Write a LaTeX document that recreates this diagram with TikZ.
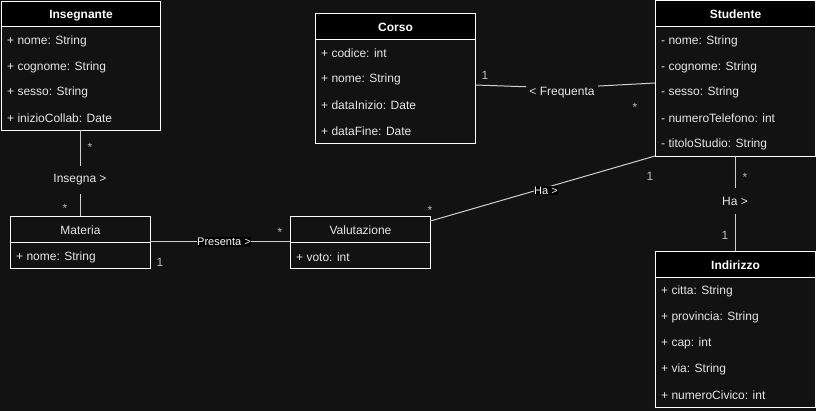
\documentclass[tikz,border=0pt]{standalone}
\usepackage{fontspec}
\setmainfont{Liberation Sans}
\definecolor{bg}{HTML}{121212}
\definecolor{hdrfill}{HTML}{000000}
\definecolor{txt}{HTML}{E6E6E6}
\definecolor{conn}{HTML}{D0D0D0}
\definecolor{mult}{HTML}{BBBBBB}
\begin{document}
\begin{tikzpicture}[x=1pt,y=-1pt,
  box/.style={draw=white,line width=1pt,fill=bg,anchor=north west,inner sep=0pt},
  hdr/.style={draw=white,line width=1pt,fill=hdrfill,anchor=north west,inner sep=0pt,text=white,text height=12pt,text depth=2.5pt,font=\fontsize{12}{14}\selectfont\bfseries},
  hdrplain/.style={draw=white,line width=1pt,fill=bg,anchor=north west,inner sep=0pt,text=txt,text height=12pt,text depth=2.5pt,font=\fontsize{12}{14}\selectfont},
  attr/.style={anchor=west,inner sep=0pt,yshift=-1pt,text=txt,font=\fontsize{12}{14}\selectfont},
  conline/.style={draw=conn,line width=1pt},
  lbl/.style={fill=bg,text=txt,inner xsep=3pt,inner ysep=9pt,font=\fontsize{12}{14}\selectfont},
  lblblack/.style={fill=black,text=white,inner xsep=0.5pt,inner ysep=1pt,font=\fontsize{11}{13}\selectfont},
  mul/.style={text=mult,inner sep=0pt,font=\fontsize{12}{14}\selectfont}]
\fill[bg] (0,0) rectangle (816,411);
\useasboundingbox (0,0) rectangle (816,411);

% Insegnante
\node[box,minimum width=159,minimum height=129] (insB) at (1,1) {};
\node[hdr,minimum width=159,minimum height=25] (ins) at (1,1) {Insegnante};
\node[attr] (ins1) at (7,40) {+ nome: String};
\node[attr] (ins2) at (7,66) {+ cognome: String};
\node[attr] (ins3) at (7,91) {+ sesso: String};
\node[attr] (ins4) at (7,117) {+ inizioCollab: Date};

% Corso
\node[box,minimum width=160,minimum height=130] (corB) at (315,13) {};
\node[hdr,minimum width=160,minimum height=26] (cor) at (315,13) {Corso};
\node[attr] (cor1) at (321,52) {+ codice: int};
\node[attr] (cor2) at (321,78) {+ nome: String};
\node[attr] (cor3) at (321,104) {+ dataInizio: Date};
\node[attr] (cor4) at (321,130) {+ dataFine: Date};

% Studente
\node[box,minimum width=160,minimum height=156] (stuB) at (655,0.5) {};
\node[hdr,minimum width=160,minimum height=25.5] (stu) at (655,0.5) {Studente};
\node[attr] (stu1) at (661,40) {- nome: String};
\node[attr] (stu2) at (661,66) {- cognome: String};
\node[attr] (stu3) at (661,91) {- sesso: String};
\node[attr] (stu4) at (661,117) {- numeroTelefono: int};
\node[attr] (stu5) at (661,143) {- titoloStudio: String};

% Materia
\node[box,minimum width=140,minimum height=52] (matB) at (10,216) {};
\node[hdrplain,minimum width=140,minimum height=26] (mat) at (10,216) {Materia};
\node[attr] (mat1) at (16,256) {+ nome: String};

% Valutazione
\node[box,minimum width=140,minimum height=52] (valB) at (290,216) {};
\node[hdrplain,minimum width=140,minimum height=26] (val) at (290,216) {Valutazione};
\node[attr] (val1) at (296,256) {+ voto: int};

% Indirizzo
\node[box,minimum width=160,minimum height=156] (indB) at (655,251) {};
\node[hdr,minimum width=160,minimum height=26] (ind) at (655,251) {Indirizzo};
\node[attr] (ind1) at (661,290) {+ citta: String};
\node[attr] (ind2) at (661,316) {+ provincia: String};
\node[attr] (ind3) at (661,342) {+ cap: int};
\node[attr] (ind4) at (661,368) {+ via: String};
\node[attr] (ind5) at (661,394) {+ numeroCivico: int};

% coordinates for connector ends
\coordinate (insBot) at (80,130);
\coordinate (matTop) at (80,216);
\coordinate (corR) at (475,85);
\coordinate (frqMid) at (562,88);
\coordinate (stuL) at (655,83);
\coordinate (valR) at (430.5,221);
\coordinate (stuBL) at (655,156);
\coordinate (stuBot) at (735,156);
\coordinate (indTop) at (735,251);
\coordinate (matR) at (150,242);
\coordinate (valL) at (290,242);

% Insegna
\draw[conline] (insBot) -- (matTop);
\node[lbl] (lInsegna) at (80,180) {Insegna >};
\node[mul] (m1) at (90,147) {*};
\node[mul] (m2) at (65,208) {*};

% Presenta
\draw[conline] (matR) -- (valL);
\node[lblblack] (lPresenta) at (224,242) {Presenta >};
\node[mul] (m3) at (160,262) {1};
\node[mul] (m4) at (280,232) {*};

% Ha (Valutazione - Studente)
\draw[conline] (valR) -- (stuBL);
\node[lblblack] (lHa1) at (546,190.5) {Ha >};
\node[mul] (m5) at (430,210) {*};
\node[mul] (m6) at (650,176) {1};

% Frequenta
\draw[conline] (corR) -- (frqMid) -- (stuL);
\node[lbl,inner ysep=4pt] (lFreq) at (562,93) {< Frequenta};
\node[mul] (m7) at (485,75) {1};
\node[mul] (m8) at (635,107) {*};

% Ha (Studente - Indirizzo)
\draw[conline] (stuBot) -- (indTop);
\node[lbl,inner ysep=9pt] (lHa2) at (735,201) {Ha >};
\node[mul] (m9) at (745,177) {*};
\node[mul] (m10) at (725,235) {1};
\end{tikzpicture}
\end{document}
